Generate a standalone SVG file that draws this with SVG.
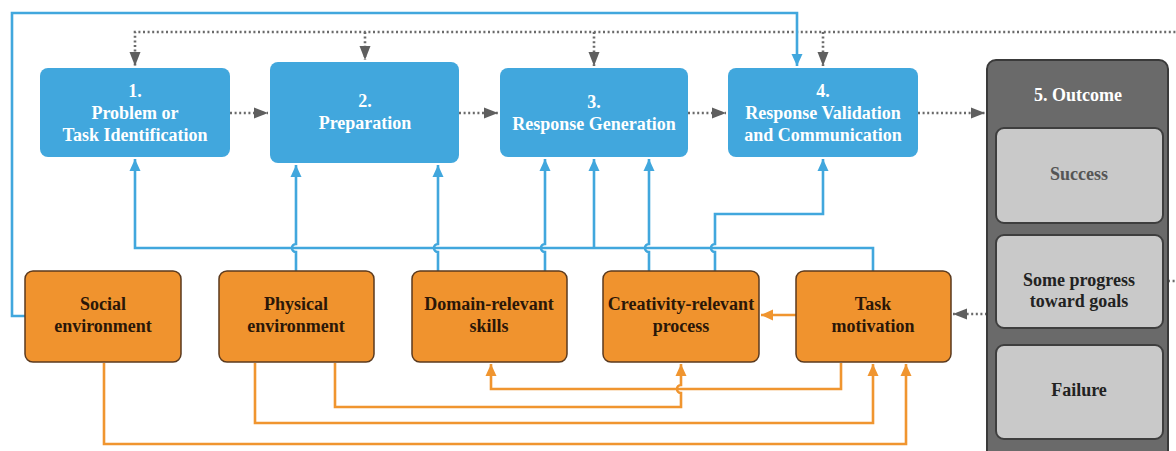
<svg xmlns="http://www.w3.org/2000/svg" width="1176" height="451" viewBox="0 0 1176 451">
<style>
.blue{fill:#41a7dd;}
.orange{fill:#f0932e;stroke:#5b3a1e;stroke-width:1.5;}
.t{font-family:"Liberation Serif","Times New Roman",serif;font-weight:bold;font-size:18px;text-anchor:middle;}
.tw{fill:#ffffff;}
.tk{fill:#2b1708;}
.bl{fill:none;stroke:#41a7dd;stroke-width:2.6;}
.or{fill:none;stroke:#f0952f;stroke-width:2.6;}
.dt{fill:none;stroke:#6a6a6a;stroke-width:2.6;stroke-dasharray:2 2.6;}
.inner{fill:#c9c9c9;stroke:#3e3e3e;stroke-width:2;}
</style>
<defs>
<marker id="ab" markerUnits="userSpaceOnUse" markerWidth="12" markerHeight="12" refX="12" refY="6" orient="auto"><path d="M0,0.5 L12,6 L0,11.5 z" fill="#41a7dd"/></marker>
<marker id="ao" markerUnits="userSpaceOnUse" markerWidth="12" markerHeight="12" refX="12" refY="6" orient="auto"><path d="M0,0.5 L12,6 L0,11.5 z" fill="#f0952f"/></marker>
<marker id="ag" markerUnits="userSpaceOnUse" markerWidth="14" markerHeight="12" refX="14" refY="6" orient="auto"><path d="M0,0.5 L14,6 L0,11.5 z" fill="#5f5f5f"/></marker>
</defs>
<rect width="1176" height="451" fill="#ffffff"/>

<g id="connectors">
  <path class="dt" d="M1180,32 H135 V66" marker-end="url(#ag)"/>
  <path class="dt" d="M365,32 V60" marker-end="url(#ag)"/>
  <path class="dt" d="M594,32 V66" marker-end="url(#ag)"/>
  <path class="dt" d="M823,32 V66" marker-end="url(#ag)"/>
  <path class="dt" d="M230,113 H268" marker-end="url(#ag)"/>
  <path class="dt" d="M459,113 H498" marker-end="url(#ag)"/>
  <path class="dt" d="M688,113 H726" marker-end="url(#ag)"/>
  <path class="dt" d="M918,113 H985" marker-end="url(#ag)"/>
  <path class="dt" d="M987,314 H953" marker-end="url(#ag)"/>
  <path class="dt" d="M1145,281 H1180"/>
  <path class="bl" d="M25,316 H12 V13 H797 V66" marker-end="url(#ab)"/>
  <path class="bl" d="M873,271 V248 H135 V159" marker-end="url(#ab)"/>
  <path class="bl" d="M594,248 V159" marker-end="url(#ab)"/>
  <path class="bl" d="M296,271 V252 A4,4 0 0 1 296,244 V165" marker-end="url(#ab)"/>
  <path class="bl" d="M438,271 V252 A4,4 0 0 1 438,244 V165" marker-end="url(#ab)"/>
  <path class="bl" d="M545,271 V252 A4,4 0 0 1 545,244 V159" marker-end="url(#ab)"/>
  <path class="bl" d="M649,271 V252 A4,4 0 0 1 649,244 V159" marker-end="url(#ab)"/>
  <path class="bl" d="M715,271 V252 A4,4 0 0 1 715,244 V214 H823 V159" marker-end="url(#ab)"/>
  <path class="or" d="M796,315 H761" marker-end="url(#ao)"/>
  <path class="or" d="M104,363 V444 H906 V364" marker-end="url(#ao)"/>
  <path class="or" d="M255,363 V423 H873 V364" marker-end="url(#ao)"/>
  <path class="or" d="M335,363 V407 H681 V393 A4,4 0 0 1 681,385 V364" marker-end="url(#ao)"/>
  <path class="or" d="M841,363 V389 H491 V364" marker-end="url(#ao)"/>
</g>

<g id="n1">
  <rect class="blue" x="40" y="68" width="190" height="89" rx="8"/>
  <text class="t tw" x="135" y="97">1.</text>
  <text class="t tw" x="135" y="119">Problem or</text>
  <text class="t tw" x="135" y="141">Task Identification</text>
</g>
<g id="n2">
  <rect class="blue" x="270" y="62" width="189" height="101" rx="8"/>
  <text class="t tw" x="365" y="107">2.</text>
  <text class="t tw" x="365" y="129">Preparation</text>
</g>
<g id="n3">
  <rect class="blue" x="500" y="68" width="188" height="89" rx="8"/>
  <text class="t tw" x="594" y="108">3.</text>
  <text class="t tw" x="594" y="130">Response Generation</text>
</g>
<g id="n4">
  <rect class="blue" x="728" y="68" width="190" height="89" rx="8"/>
  <text class="t tw" x="823" y="97">4.</text>
  <text class="t tw" x="823" y="119">Response Validation</text>
  <text class="t tw" x="823" y="141">and Communication</text>
</g>
<g id="n5">
  <rect x="987" y="60" width="181" height="400" rx="9" fill="#6a6a6a" stroke="#3a3a3a" stroke-width="2"/>
  <text class="t tw" x="1078" y="101">5. Outcome</text>
</g>
<g id="n5a">
  <rect class="inner" x="996" y="128" width="167" height="95" rx="8"/>
  <text class="t" x="1079" y="180" fill="#555555">Success</text>
</g>
<g id="n5b">
  <rect class="inner" x="996" y="235" width="167" height="93" rx="8"/>
  <text class="t" x="1079" y="286" fill="#222222">Some progress</text>
  <text class="t" x="1079" y="307" fill="#222222">toward goals</text>
</g>
<g id="n5c">
  <rect class="inner" x="996" y="345" width="167" height="94" rx="8"/>
  <text class="t" x="1079" y="396" fill="#222222">Failure</text>
</g>
<g id="s1">
  <rect class="orange" x="25" y="271" width="156" height="91" rx="8"/>
  <text class="t tk" x="103" y="310">Social</text>
  <text class="t tk" x="103" y="332">environment</text>
</g>
<g id="s2">
  <rect class="orange" x="219" y="271" width="155" height="91" rx="8"/>
  <text class="t tk" x="296" y="310">Physical</text>
  <text class="t tk" x="296" y="332">environment</text>
</g>
<g id="s3">
  <rect class="orange" x="412" y="271" width="155" height="91" rx="8"/>
  <text class="t tk" x="489" y="310">Domain-relevant</text>
  <text class="t tk" x="489" y="332">skills</text>
</g>
<g id="s4">
  <rect class="orange" x="603" y="271" width="156" height="91" rx="8"/>
  <text class="t tk" x="681" y="310">Creativity-relevant</text>
  <text class="t tk" x="681" y="332">process</text>
</g>
<g id="s5">
  <rect class="orange" x="796" y="271" width="155" height="91" rx="8"/>
  <text class="t tk" x="873" y="310">Task</text>
  <text class="t tk" x="873" y="332">motivation</text>
</g>
</svg>
